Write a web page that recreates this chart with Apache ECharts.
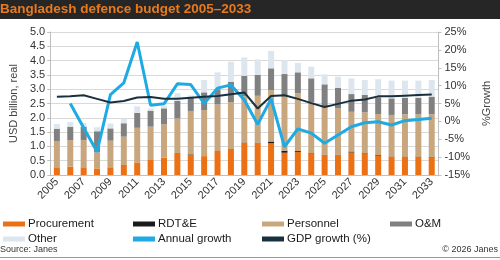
<!DOCTYPE html>
<html><head><meta charset="utf-8">
<script src="https://cdn.jsdelivr.net/npm/echarts@6/dist/echarts.min.js"></script>
<style>html,body{margin:0;padding:0;background:#fff}#c{width:500px;height:260px}</style>
</head><body><div id="c"></div>
<script>
const years = ['2005','2006','2007','2008','2009','2010','2011','2012','2013','2014','2015','2016','2017','2018','2019','2020','2021','2022','2023','2024','2025','2026','2027','2028','2029','2030','2031','2032','2033'];
const procurement = [0.27,0.29,0.27,0.23,0.27,0.35,0.44,0.55,0.61,0.77,0.70,0.66,0.84,0.91,1.13,1.12,1.11,0.78,0.81,0.74,0.70,0.70,0.79,0.74,0.68,0.64,0.64,0.64,0.62];
const rdte = [0,0,0,0,0,0,0,0,0,0,0.02,0,0,0,0.01,0.01,0.06,0.07,0.03,0.02,0.01,0.01,0.03,0.02,0.02,0.01,0.01,0.01,0.02];
const personnel = [0.92,0.93,0.95,0.56,0.93,0.99,1.21,1.14,1.16,1.21,1.52,1.61,1.63,1.64,1.61,1.64,1.80,1.91,2.02,1.78,1.68,1.62,1.39,1.43,1.43,1.45,1.47,1.47,1.48];
const om = [0.43,0.47,0.47,0.74,0.43,0.47,0.52,0.56,0.56,0.61,0.46,0.62,0.53,0.71,0.72,0.73,0.76,0.77,0.73,0.84,0.78,0.72,0.62,0.61,0.59,0.58,0.58,0.58,0.62];
const other = [0.16,0.16,0.13,0.14,0.17,0.16,0.23,0.07,0.09,0.27,0.08,0.43,0.59,0.70,0.64,0.54,0.61,0.49,0.33,0.41,0.35,0.39,0.55,0.52,0.63,0.62,0.60,0.60,0.58];
const annualGrowth = [null,5.0,-1.8,-8.5,7.5,10.8,22.2,4.5,4.9,10.5,10.3,5.0,9.3,10.2,6.0,-0.8,6.3,-7.1,-2.1,-3.3,-6.1,-3.8,-1.5,-0.4,-0.1,-1.0,0.2,0.5,0.85];
const gdpGrowth = [6.9,7.0,7.3,6.3,5.3,5.7,6.7,6.8,6.3,6.3,6.6,6.9,7.1,7.6,8.1,3.6,7.1,7.3,6.3,5.1,4.0,4.9,5.8,6.1,7.0,7.0,7.2,7.4,7.5];
const leftTicks = {min:0,max:5,interval:0.5};
const rightTicks = {min:-15,max:25,interval:5};

const FONT = 'Liberation Sans, Arial, sans-serif';
const C = {proc:'#ec7014', rdte:'#1a1a1a', pers:'#c8a77f', om:'#808080', other:'#dde6ee', ag:'#1eaae2', gdp:'#18303e'};

const chart = echarts.init(document.getElementById('c'));
function bar(name, data, color){
  return {name, type:'bar', stack:'b', data, barWidth:6, itemStyle:{color}, emphasis:{disabled:true}};
}
const legendPos = [
  ['Procurement',3,218],['RDT&E',133,218],['Personnel',262,218],['O&M',390,218],
  ['Other',3,233],['Annual growth',133,233],['GDP growth (%)',262,233]
];
const legends = legendPos.map(([n,l,t])=>({
  data:[{name:n, icon:'rect'}], left:l, top:t, itemWidth:22, itemHeight:5, itemGap:0, padding:0,
  textStyle:{fontFamily:FONT, fontSize:11.5, color:'#1a1a1a', padding:[0,0,0,-2]}, selectedMode:false
}));
chart.setOption({
  animation:false,
  textStyle:{fontFamily:FONT},
  title:{text:'Bangladesh defence budget 2005–2033', left:0, top:2, padding:0, z:10,
    textStyle:{color:'#e87a1e', fontSize:13.5, fontWeight:'bold', fontFamily:FONT}},
  graphic:[
    {type:'rect', left:0, top:0, shape:{width:500, height:19}, style:{fill:'#262626'}, z:0},
    {type:'text', left:0, top:245, style:{text:'Source: Janes', fontSize:9, fill:'#333', fontFamily:FONT}},
    {type:'text', right:2, top:245, style:{text:'© 2026 Janes', fontSize:9, fill:'#333', fontFamily:FONT}},
    {type:'rect', left:0, top:257, shape:{width:500, height:1}, style:{fill:'#999'}}
  ],
  legend:legends,
  grid:{left:38, right:42, top:32, bottom:85},
  xAxis:{type:'category', data:years,
    axisLine:{lineStyle:{color:'#bfbfbf'}},
    axisTick:{interval:1, length:3, lineStyle:{color:'#bfbfbf'}},
    axisLabel:{interval:1, rotate:45, fontSize:11, color:'#333', margin:5}},
  yAxis:[
    {type:'value', min:leftTicks.min, max:leftTicks.max, interval:leftTicks.interval,
     name:'USD billion, real', nameLocation:'middle', nameGap:30, nameRotate:90,
     nameTextStyle:{fontSize:11, color:'#444'},
     axisLine:{show:true, lineStyle:{color:'#bfbfbf'}}, axisTick:{show:true, length:3, lineStyle:{color:'#bfbfbf'}},
     axisLabel:{fontSize:11, color:'#333', margin:5, formatter:v=>v.toFixed(1)},
     splitLine:{lineStyle:{color:'#d9d9d9'}}},
    {type:'value', min:rightTicks.min, max:rightTicks.max, interval:rightTicks.interval, position:'right',
     name:'%Growth', nameLocation:'middle', nameGap:31, nameRotate:90,
     nameTextStyle:{fontSize:11, color:'#444'},
     axisLine:{show:true, lineStyle:{color:'#bfbfbf'}}, axisTick:{show:true, length:3, lineStyle:{color:'#bfbfbf'}},
     axisLabel:{fontSize:11, color:'#333', margin:6, formatter:v=>v+'%'},
     splitLine:{show:false}}
  ],
  series:[
    bar('Procurement', procurement, C.proc),
    bar('RDT&E', rdte, C.rdte),
    bar('Personnel', personnel, C.pers),
    bar('O&M', om, C.om),
    bar('Other', other, C.other),
    {name:'Annual growth', type:'line', yAxisIndex:1, data:annualGrowth, symbol:'none', color:C.ag,
     lineStyle:{width:3, color:C.ag}},
    {name:'GDP growth (%)', type:'line', yAxisIndex:1, data:gdpGrowth, symbol:'none', color:C.gdp,
     lineStyle:{width:2, color:C.gdp}}
  ]
});
</script></body></html>
